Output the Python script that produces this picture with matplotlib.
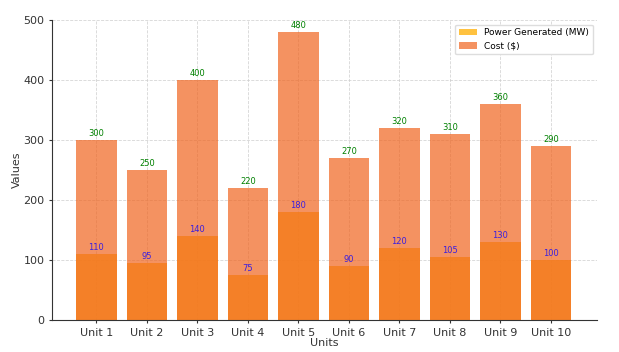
import numpy as np
import matplotlib.pyplot as plt

units = ['Unit 1', 'Unit 2', 'Unit 3', 'Unit 4', 'Unit 5',
         'Unit 6', 'Unit 7', 'Unit 8', 'Unit 9', 'Unit 10']
power_mw = [110, 95, 140, 75, 180, 90, 120, 105, 130, 100]
cost = [300, 250, 400, 220, 480, 270, 320, 310, 360, 290]

fig = plt.figure(figsize=(6.19, 3.52), dpi=100)
ax = fig.add_axes([0.084, 0.091, 0.881, 0.852])

x = np.arange(len(units))
ax.bar(x, power_mw, width=0.8, color='#FFB81E', alpha=0.85, label='Power Generated (MW)')
ax.bar(x, cost, width=0.8, color='#F0641E', alpha=0.7, label='Cost ($)')

# 数值标注
for xi, v in zip(x, cost):
    ax.text(xi, v + 3, str(v), ha='center', va='bottom', fontsize=6, color='green')
for xi, v in zip(x, power_mw):
    ax.text(xi, v + 3, str(v), ha='center', va='bottom', fontsize=6, color='#3A1FE0')

ax.set_xticks(x)
ax.set_xticklabels(units)
ax.set_xlim(-0.88, 9.92)
ax.set_ylim(0, 500)
ax.set_xlabel('Units', fontsize=8, color='#333333', labelpad=0)
ax.set_ylabel('Values', fontsize=8, color='#333333', labelpad=1)
ax.tick_params(labelsize=8, colors='#333333', length=2)
ax.grid(True, color='#cccccc', linestyle='--', linewidth=0.6, alpha=0.8)
ax.set_axisbelow(True)
for s in ['top', 'right']:
    ax.spines[s].set_visible(False)
for s in ['left', 'bottom']:
    ax.spines[s].set_color('#333333')
    ax.spines[s].set_linewidth(0.8)

ax.legend(loc='upper right', fontsize=6.5, framealpha=1, edgecolor='#dddddd')

fig.savefig('out.png', dpi=100)
